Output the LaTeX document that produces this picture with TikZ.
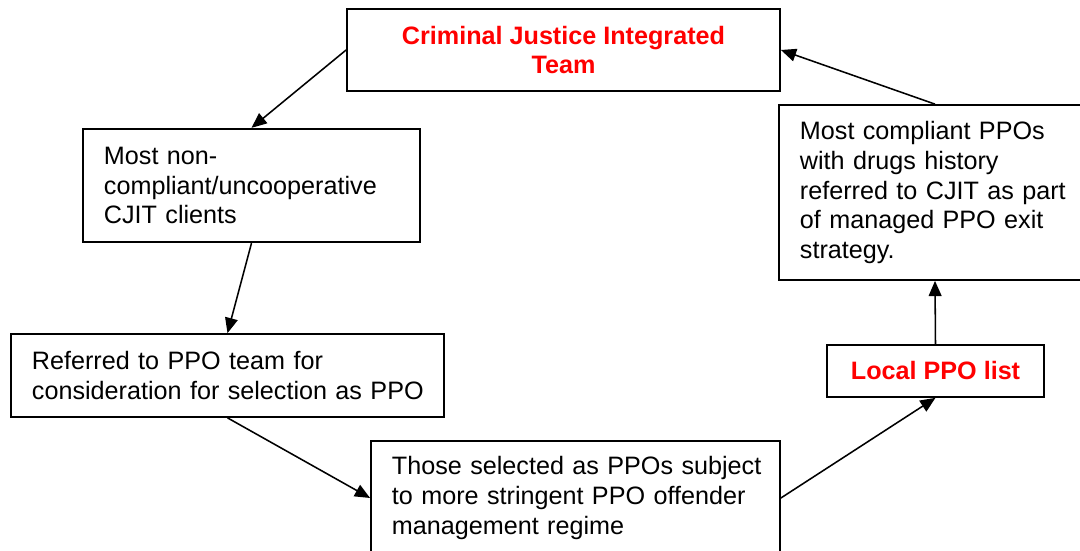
\documentclass[tikz,border=0pt]{standalone}
\usepackage{fontspec}
\setmainfont{Liberation Sans}
\usetikzlibrary{arrows.meta}
\begin{document}
\begin{tikzpicture}[x=0.025cm,y=-0.025cm,
  box/.style={draw,line width=1.2pt,inner xsep=0pt,inner ysep=0pt,align=left,
    execute at begin node={\leftskip=0.525cm},font=\fontsize{17.9}{21.3}\selectfont},
  redbox/.style={draw,line width=1.2pt,inner sep=0pt,align=center,text=red,font=\fontsize{17.9}{21.3}\selectfont\bfseries},
  link/.style={draw,line width=1.1pt,-{Triangle[length=0.38cm,width=0.32cm]}}]
\useasboundingbox (0,0) rectangle (1080,551);
\clip (0,0) rectangle (1080,551);
\node[redbox,minimum width=10.825cm,minimum height=2.05cm] (1) at (563.5,50) {Criminal Justice Integrated\\Team};
\node[box,text width=8.425cm,minimum height=2.84cm] (2) at (251.5,185.5) {Most non-\\compliant/uncooperative\\CJIT clients};
\node[box,text width=10.825cm,minimum height=2.075cm] (3) at (227.5,375.5) {Referred to PPO team for\\consideration for selection as PPO};
\node[box,text width=10.225cm,minimum height=2.85cm] (4) at (575.5,498) {Those selected as PPOs subject\\to more stringent PPO offender\\management regime};
\node[redbox,minimum width=5.425cm,minimum height=1.3cm] (5) at (935.5,371) {Local PPO list};
\node[box,text width=7.8cm,minimum height=4.375cm] (6) at (935,192.5) {Most compliant PPOs\\with drugs history\\referred to CJIT as part\\of managed PPO exit\\strategy.};

\path[link] (1.west) -- (2.north);
\path[link] (2.south) -- (3.north);
\path[link] (3.south) -- (4.west);
\path[link] (4.east) -- (5.south);
\path[link] (5.north) -- (6.south);
\path[link] (6.north) -- (1.east);
\end{tikzpicture}
\end{document}
